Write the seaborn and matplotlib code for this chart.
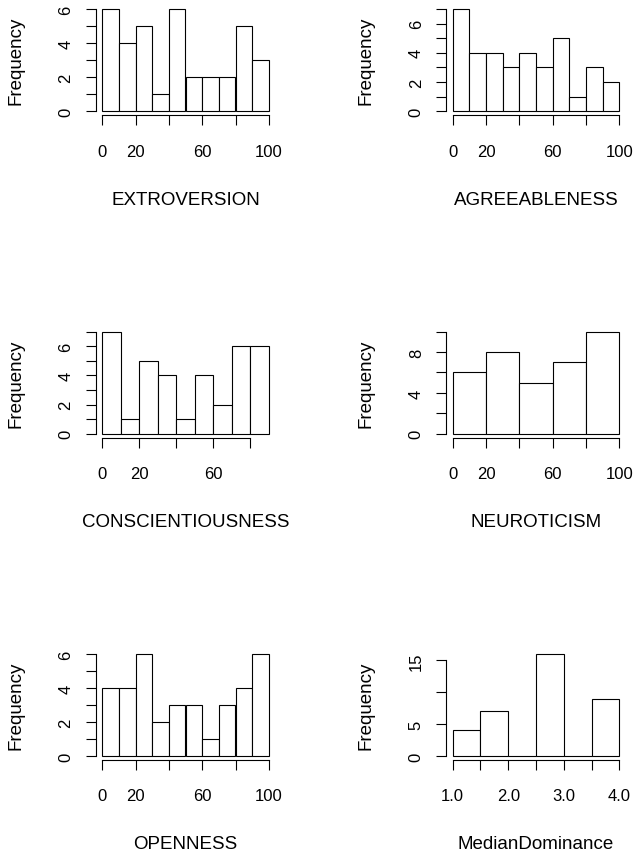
"""
Six base-R style histograms of personality scores and median dominance.
"""

import pandas as pd
import seaborn as sns
import matplotlib.pyplot as plt

# bin edges and counts
extro_edges = [0, 10, 20, 30, 40, 50, 60, 70, 80, 90, 100]
extro_counts = [6, 4, 5, 1, 6, 2, 2, 2, 5, 3]

agree_edges = [0, 10, 20, 30, 40, 50, 60, 70, 80, 90, 100]
agree_counts = [7, 4, 4, 3, 4, 3, 5, 1, 3, 2]

consc_edges = [0, 10, 20, 30, 40, 50, 60, 70, 80, 90]
consc_counts = [7, 1, 5, 4, 1, 4, 2, 6, 6]

neuro_edges = [0, 20, 40, 60, 80, 100]
neuro_counts = [6, 8, 5, 7, 10]

open_edges = [0, 10, 20, 30, 40, 50, 60, 70, 80, 90, 100]
open_counts = [4, 4, 6, 2, 3, 3, 1, 3, 4, 6]

dom_edges = [1.0, 1.5, 2.0, 2.5, 3.0, 3.5, 4.0]
dom_counts = [4, 7, 0, 16, 0, 9]

# ticks; empty labels are the ones R drops because they would overlap
pct_xticks = [0, 20, 40, 60, 80, 100]
pct_xlabels = ["0", "20", "", "60", "", "100"]
consc_xticks = [0, 20, 40, 60, 80]
consc_xlabels = ["0", "20", "", "60", ""]
dom_xticks = [1.0, 1.5, 2.0, 2.5, 3.0, 3.5, 4.0]
dom_xlabels = ["1.0", "", "2.0", "", "3.0", "", "4.0"]

y6_ticks = [0, 1, 2, 3, 4, 5, 6]
y6_labels = ["0", "", "2", "", "4", "", "6"]
y7_ticks = [0, 1, 2, 3, 4, 5, 6, 7]
y7_labels = ["0", "", "2", "", "4", "", "6", ""]
y10_ticks = [0, 2, 4, 6, 8, 10]
y10_labels = ["0", "", "4", "", "8", ""]
y16_ticks = [0, 5, 10, 15]
y16_labels = ["0", "5", "", "15"]

panels = [
    ("EXTROVERSION", extro_edges, extro_counts, pct_xticks, pct_xlabels, y6_ticks, y6_labels),
    ("AGREEABLENESS", agree_edges, agree_counts, pct_xticks, pct_xlabels, y7_ticks, y7_labels),
    ("CONSCIENTIOUSNESS", consc_edges, consc_counts, consc_xticks, consc_xlabels, y7_ticks, y7_labels),
    ("NEUROTICISM", neuro_edges, neuro_counts, pct_xticks, pct_xlabels, y10_ticks, y10_labels),
    ("OPENNESS", open_edges, open_counts, pct_xticks, pct_xlabels, y6_ticks, y6_labels),
    ("MedianDominance", dom_edges, dom_counts, dom_xticks, dom_xlabels, y16_ticks, y16_labels),
]

sns.set_style("ticks")
plt.rcParams["font.family"] = ["Liberation Sans", "DejaVu Sans"]
plt.rcParams["font.size"] = 12
plt.rcParams["text.color"] = "black"
plt.rcParams["axes.labelcolor"] = "black"

W, H = 635, 854
fig = plt.figure(figsize=(W / 100, H / 100), dpi=100)

# plot regions in pixels (left, top, width, height)
col_left = [95.5, 446.0]
row_top = [6.0, 328.6, 650.8]
reg_w, reg_h = 180.0, 110.2

for i, (name, edges, counts, xt, xl, yt, yl) in enumerate(panels):
    r, c = divmod(i, 2)
    ax = fig.add_axes([col_left[c] / W, 1 - (row_top[r] + reg_h) / H, reg_w / W, reg_h / H])

    mids = [(a + b) / 2 for a, b in zip(edges[:-1], edges[1:])]
    df = pd.DataFrame({name: mids, "n": counts})
    sns.histplot(data=df, x=name, weights="n", bins=edges, stat="count",
                 color="white", edgecolor="black", linewidth=0.8, alpha=1, ax=ax)

    xr = edges[-1] - edges[0]
    ax.set_xlim(edges[0] - 0.04 * xr, edges[-1] + 0.04 * xr)
    top = max(counts)
    ax.set_ylim(-0.04 * top, 1.04 * top)

    ax.set_xticks(xt)
    ax.set_xticklabels(xl)
    ax.set_yticks(yt)
    ax.set_yticklabels(yl, rotation=90, va="center")

    for side in ["top", "right"]:
        ax.spines[side].set_visible(False)
    ax.spines["bottom"].set_bounds(xt[0], xt[-1])
    ax.spines["left"].set_bounds(yt[0], yt[-1])
    for side in ["bottom", "left"]:
        ax.spines[side].set_linewidth(0.8)
        ax.spines[side].set_color("black")

    ax.tick_params(axis="x", length=7.5, width=0.8, pad=13, labelsize=12, colors="black")
    ax.tick_params(axis="y", length=7.5, width=0.8, pad=8.5, labelsize=12, colors="black")

    ax.set_xlabel(name, fontsize=13.5, color="black")
    ax.xaxis.set_label_coords(0.5, -0.685)
    ax.set_ylabel("Frequency", fontsize=13.5, color="black")
    ax.yaxis.set_label_coords(-71 / reg_w, 0.5)

fig.savefig("out.png", dpi=100)
